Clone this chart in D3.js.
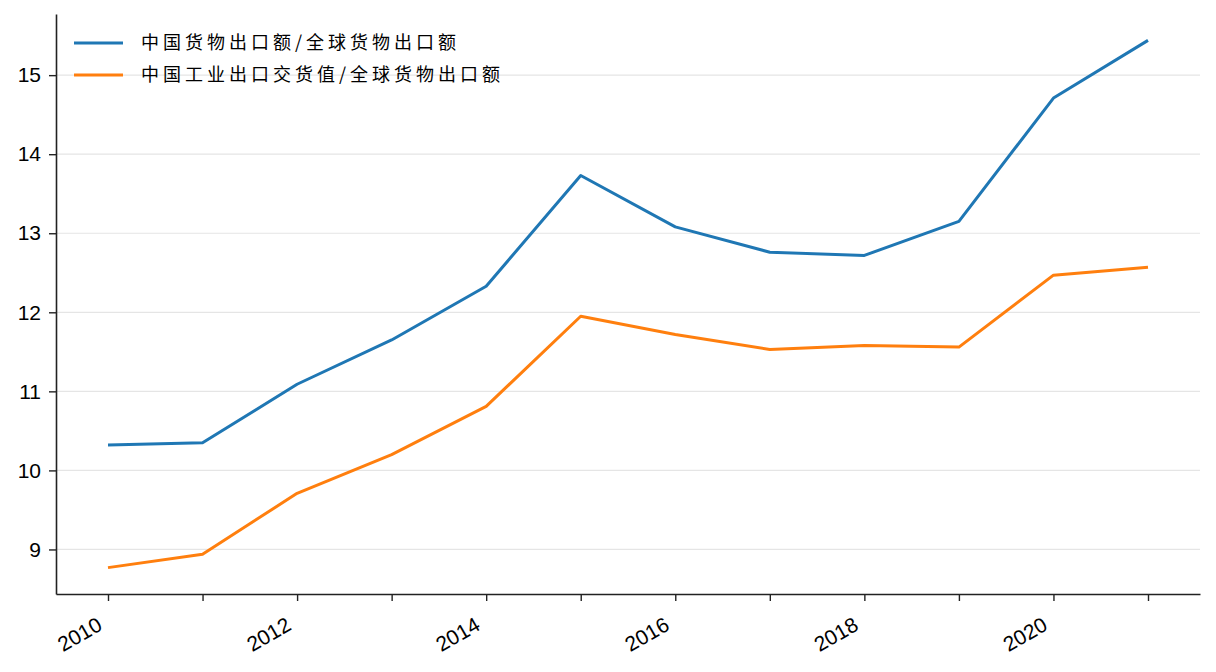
<!DOCTYPE html>
<html>
<head>
<meta charset="utf-8">
<script src="https://cdn.jsdelivr.net/npm/d3@7"></script>
<style>
  body { margin: 0; background: #fff; }
  text { font-family: "Liberation Sans", Arial, "Noto Sans CJK SC", sans-serif; }
</style>
</head>
<body>
<svg id="chart"></svg>
<script>
const years = [2010, 2011, 2012, 2013, 2014, 2015, 2016, 2017, 2018, 2019, 2020, 2021];
const goodsShare = [10.32, 10.35, 11.09, 11.65, 12.33, 13.73, 13.08, 12.76, 12.72, 13.15, 14.71, 15.44];
const industryShare = [8.77, 8.94, 9.71, 10.20, 10.81, 11.95, 11.72, 11.53, 11.58, 11.56, 12.47, 12.57];
const seriesNames = ['中国货物出口额/全球货物出口额', '中国工业出口交货值/全球货物出口额'];
const colors = ['#1f77b4', '#ff7f0e'];
const yTicks = [9, 10, 11, 12, 13, 14, 15];
const xLabelYears = [2010, 2012, 2014, 2016, 2018, 2020];

const width = 1216, height = 672;
const margin = { top: 14, right: 16, bottom: 78, left: 56 };
const chartWidth = width - margin.left - margin.right;
const chartHeight = height - margin.top - margin.bottom;

const svg = d3.select('#chart').attr('width', width).attr('height', height);
const g = svg.append('g').attr('transform', `translate(${margin.left},${margin.top})`);

// x scale with matplotlib-like 5% padding
const x = d3.scaleLinear().domain([2010 - 0.55, 2021 + 0.55]).range([0, chartWidth]);
const allVals = goodsShare.concat(industryShare);
const lo = d3.min(allVals), hi = d3.max(allVals), pad = (hi - lo) * 0.05;
const y = d3.scaleLinear().domain([lo - pad, hi + pad]).range([chartHeight, 0]);

// horizontal grid
g.selectAll('.grid')
  .data(yTicks)
  .enter()
  .append('line')
  .attr('x1', 0).attr('x2', chartWidth)
  .attr('y1', d => y(d)).attr('y2', d => y(d))
  .attr('stroke', '#e5e5e5').attr('stroke-width', 1.2);

// lines
const line = (vals) => d3.line()
  .x((d, i) => x(years[i]))
  .y(d => y(d))(vals);

[goodsShare, industryShare].forEach((vals, i) => {
  g.append('path')
    .attr('d', line(vals))
    .attr('fill', 'none')
    .attr('stroke', colors[i])
    .attr('stroke-width', 3)
    .attr('stroke-linejoin', 'round');
});

// X axis
const xAxis = g.append('g')
  .attr('transform', `translate(0,${chartHeight})`)
  .call(d3.axisBottom(x).tickValues(years).tickSize(7).tickSizeOuter(0).tickPadding(6)
    .tickFormat(d => xLabelYears.includes(d) ? d : ''));
xAxis.select('.domain').attr('stroke', '#222').attr('stroke-width', 1.6);
xAxis.selectAll('.tick line').attr('stroke', '#222').attr('stroke-width', 1.4);
xAxis.selectAll('.tick text')
  .style('font-size', '21px')
  .attr('fill', '#000')
  .attr('text-anchor', 'end')
  .attr('y', 0)
  .attr('dy', 0)
  .attr('transform', 'translate(-5,35) rotate(-30)');

// Y axis
const yAxis = g.append('g')
  .call(d3.axisLeft(y).tickValues(yTicks).tickSize(7).tickSizeOuter(0).tickPadding(8));
yAxis.select('.domain').attr('stroke', '#222').attr('stroke-width', 1.6);
yAxis.selectAll('.tick line').attr('stroke', '#222').attr('stroke-width', 1.4);
yAxis.selectAll('.tick text').style('font-size', '21px').attr('fill', '#000');

// Legend
const legend = g.append('g').attr('transform', 'translate(18,29)');
seriesNames.forEach((name, i) => {
  const row = legend.append('g').attr('transform', `translate(0,${i * 32})`);
  row.append('line')
    .attr('x1', 0).attr('x2', 49)
    .attr('stroke', colors[i]).attr('stroke-width', 3);
  row.append('text')
    .attr('x', 67).attr('y', 0).attr('dy', '0.36em')
    .style('font-size', '18px').attr('fill', '#000')
    .attr('letter-spacing', 4)
    .style('font-family', '"Noto Sans CJK SC", sans-serif')
    .text(name);
});
</script>
</body>
</html>
